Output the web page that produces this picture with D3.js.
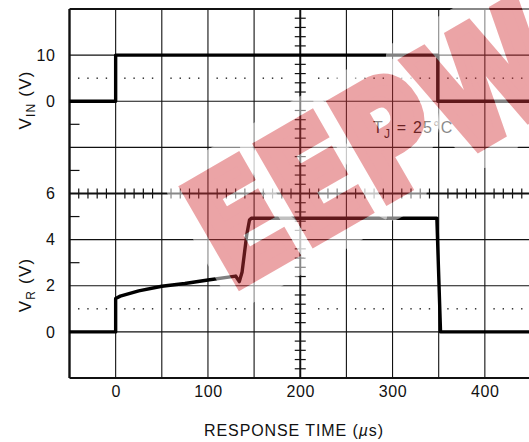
<!DOCTYPE html>
<html><head><meta charset="utf-8">
<script src="https://cdn.jsdelivr.net/npm/d3@7"></script>
<style>body{margin:0;background:#fff;} svg{display:block}</style>
</head><body><svg id="c" width="529" height="442"></svg>
<script>
// ---- data ----
const vinTime  = [-50, 0, 0, 349, 349, 450];
const vinValue = [0, 0, 10, 10, 0, 0];
const vrTime  = [-50, 0, 0, 5, 25, 50, 75, 100, 130, 134, 137, 142, 145, 147, 348, 352, 450];
const vrValue = [0, 0, 1.45, 1.55, 1.78, 1.98, 2.1, 2.25, 2.42, 2.18, 2.6, 4.2, 4.85, 4.93, 4.93, 0, 0];
const xTicks = [0, 100, 200, 300, 400];
const vinTicks = [0, 10];
const vrTicks = [0, 2, 4, 6];
const vinDotLevel = 5, vrDotLevel = 1;
const vinSideTicks = [-5, -15], vrSideTicks = [5, 3];
const xTitle = ["RESPONSE TIME (", "µ", "s)"];
const noteText = ["T", "J", " = 25°C"];
const watermark = "EEPW";

// ---- layout ----
const svg = d3.select("#c");
const L = 69.5, R = 531, T = 9, M = 193.5, B = 378;
const x = d3.scaleLinear([-50, 450], [L, R]);
const yIn = d3.scaleLinear([-20, 20], [M, T]);
const yR = d3.scaleLinear([-2, 6], [B, M]);
const ink = "#111";

const g = svg.append("g");
// grid
const vlines = d3.range(-50, 451, 50);
g.selectAll(".vg").data(vlines).join("line")
  .attr("x1", d => x(d)).attr("x2", d => x(d)).attr("y1", T).attr("y2", B)
  .attr("stroke", ink).attr("stroke-width", d => (d === -50 ? 2.4 : d === 200 ? 2 : 1.1));
const hIn = [20, 10, 0, -10];
g.selectAll(".hi").data(hIn).join("line")
  .attr("x1", L).attr("x2", R).attr("y1", d => yIn(d)).attr("y2", d => yIn(d))
  .attr("stroke", ink).attr("stroke-width", d => (d === 20 ? 2 : 1.1));
const hR = [6, 4, 2, 0, -2];
g.selectAll(".hr").data(hR).join("line")
  .attr("x1", L).attr("x2", R).attr("y1", d => yR(d)).attr("y2", d => yR(d))
  .attr("stroke", ink).attr("stroke-width", d => (d === 6 || d === -2 ? 2 : 1.1));

// minor ticks on centre lines
const cx = x(200);
const vMinor = d3.range(-20, 20.01, 2).filter(v => Math.abs(v % 10) > 1e-6).map(v => yIn(v))
  .concat(d3.range(-2, 6.01, 0.4).filter(v => Math.abs(Math.round(v * 10) % 20) > 1e-6).map(v => yR(v)));
g.selectAll(".vm").data(vMinor).join("line")
  .attr("x1", cx - 5.5).attr("x2", cx + 5.5).attr("y1", d => d).attr("y2", d => d)
  .attr("stroke", ink).attr("stroke-width", 1.2);
const hMinor = d3.range(-50, 450, 10).filter(t => t % 50 !== 0);
g.selectAll(".hm").data(hMinor).join("line")
  .attr("x1", d => x(d)).attr("x2", d => x(d)).attr("y1", M - 5).attr("y2", M + 5)
  .attr("stroke", ink).attr("stroke-width", 1.2);

// dotted reference lines
const dotT = d3.range(-50, 450, 10).filter(t => t % 50 !== 0 && t !== 190 && t !== 210);
g.selectAll(".d1").data(dotT).join("rect")
  .attr("x", d => x(d) - 0.7).attr("y", yIn(vinDotLevel) - 0.7).attr("width", 1.4).attr("height", 1.4).attr("fill", "#222");
g.selectAll(".d2").data(dotT).join("rect")
  .attr("x", d => x(d) - 0.7).attr("y", yR(vrDotLevel) - 0.7).attr("width", 1.4).attr("height", 1.4).attr("fill", "#222");

// left side short ticks
g.selectAll(".s1").data(vinSideTicks.map(v => yIn(v)).concat(vrSideTicks.map(v => yR(v)))).join("line")
  .attr("x1", L).attr("x2", L + 10).attr("y1", d => d).attr("y2", d => d)
  .attr("stroke", ink).attr("stroke-width", 1.2);

// axes labels
const font = "Liberation Sans, Arial, sans-serif";
function styleAxis(sel) {
  sel.select(".domain").remove();
  sel.selectAll("text").attr("font-family", font).attr("font-size", 16).attr("fill", ink).attr("letter-spacing", 0.6);
}
svg.append("g").attr("transform", `translate(${L},0)`)
  .call(d3.axisLeft(yIn).tickValues(vinTicks).tickSize(0).tickPadding(14)).call(styleAxis);
svg.append("g").attr("transform", `translate(${L},0)`)
  .call(d3.axisLeft(yR).tickValues(vrTicks).tickSize(0).tickPadding(14)).call(styleAxis);
svg.append("g").attr("transform", `translate(0,${B})`)
  .call(d3.axisBottom(x).tickValues(xTicks).tickSize(0).tickPadding(8)).call(styleAxis);

// titles
function vTitle(cy, sub) {
  const t = svg.append("text").attr("transform", `translate(31,${cy}) rotate(-90)`)
    .attr("text-anchor", "middle").attr("font-family", font).attr("font-size", 17)
    .attr("letter-spacing", 1.2).attr("fill", ink);
  t.append("tspan").text("V");
  t.append("tspan").attr("font-size", 12).attr("dy", 4).text(sub);
  t.append("tspan").attr("dy", -4).text("  (V)");
}
vTitle(100, "IN");
vTitle(285, "R");

const xt = svg.append("text").attr("x", 294).attr("y", 436).attr("text-anchor", "middle")
  .attr("font-family", font).attr("font-size", 16).attr("letter-spacing", 0.9).attr("fill", ink);
xt.append("tspan").text(xTitle[0]);
xt.append("tspan").attr("font-style", "italic").text(xTitle[1]);
xt.append("tspan").text(xTitle[2]);

const nt = svg.append("text").attr("x", 373).attr("y", 133)
  .attr("font-family", font).attr("font-size", 16).attr("letter-spacing", 1.2).attr("fill", ink);
nt.append("tspan").text(noteText[0]);
nt.append("tspan").attr("font-size", 12).attr("dy", 5).text(noteText[1]);
nt.append("tspan").attr("dy", -5).text(noteText[2]);

// traces
const line = (ys) => d3.line().x(d => x(d[0])).y(d => ys(d[1]));
svg.append("path").datum(d3.zip(vinTime, vinValue)).attr("d", line(yIn))
  .attr("fill", "none").attr("stroke", "#000").attr("stroke-width", 3.4).attr("stroke-linejoin", "round");
svg.append("path").datum(d3.zip(vrTime, vrValue)).attr("d", line(yR))
  .attr("fill", "none").attr("stroke", "#000").attr("stroke-width", 3.4).attr("stroke-linejoin", "round");

// watermark (white halo outside letters + translucent red heavy letters)
const wmTf = "translate(236,286) rotate(-30) scale(0.8,1)";
const thick = 12;
const defs = svg.append("defs");
const mask = defs.append("mask").attr("id", "wmMask").attr("maskUnits", "userSpaceOnUse")
  .attr("x", 0).attr("y", 0).attr("width", 529).attr("height", 442);
mask.append("rect").attr("width", 529).attr("height", 442).attr("fill", "#fff");
function wmText(parent) {
  return parent.append("text").attr("transform", wmTf).attr("x", -8).attr("y", 0)
    .attr("font-family", "DejaVu Sans, sans-serif").attr("font-weight", "bold").attr("font-size", 150)
    .attr("letter-spacing", 4)
    .text(watermark);
}
wmText(mask).attr("fill", "#000").attr("stroke", "#000").attr("stroke-width", thick).attr("stroke-linejoin", "miter");
wmText(svg.append("g").attr("mask", "url(#wmMask)"))
  .attr("fill", "none").attr("stroke", "#fff").attr("stroke-opacity", 0.5)
  .attr("stroke-width", thick + 34).attr("stroke-linejoin", "round");
wmText(svg.append("g").attr("opacity", 0.45))
  .attr("fill", "rgb(211,55,60)").attr("stroke", "rgb(211,55,60)")
  .attr("stroke-width", thick).attr("stroke-linejoin", "miter");
</script></body></html>
